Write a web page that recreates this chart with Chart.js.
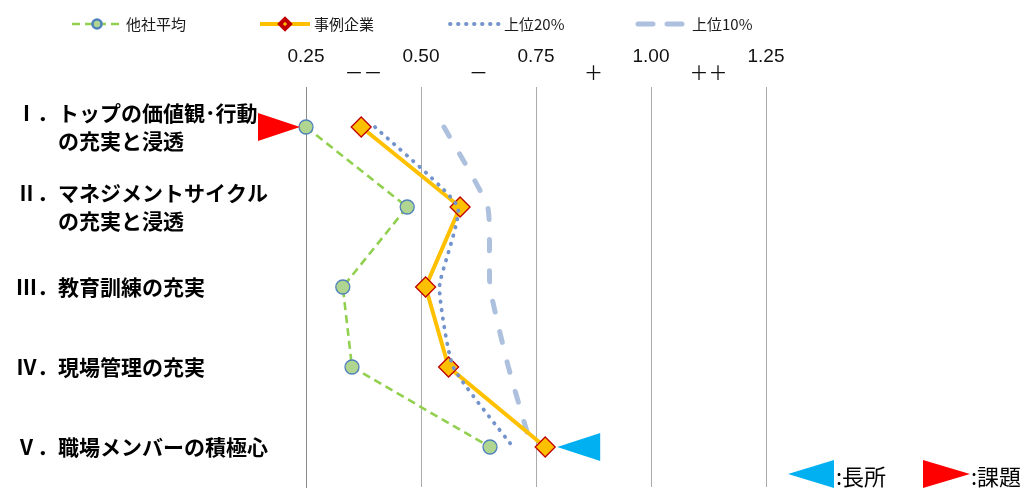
<!DOCTYPE html>
<html lang="ja">
<head>
<meta charset="utf-8">
<title>比較チャート</title>
<script src="https://cdn.jsdelivr.net/npm/chart.js@4.4.1/dist/chart.umd.min.js"></script>
<style>
  html, body { margin: 0; padding: 0; background: #fff; overflow: hidden; }
  canvas { display: block; }
</style>
</head>
<body>
<canvas id="chart" width="1030" height="488"></canvas>
<script>
// Data
const categories = [
  ['Ⅰ．トップの価値観･行動', '　　の充実と浸透'],
  ['Ⅱ．マネジメントサイクル', '　　の充実と浸透'],
  'Ⅲ．教育訓練の充実',
  'Ⅳ．現場管理の充実',
  'Ⅴ．職場メンバーの積極心'
];
const seriesNames = ['他社平均', '事例企業', '上位20%', '上位10%'];
const otherAvg = [0.25, 0.47, 0.33, 0.35, 0.65];
const caseCompany = [0.37, 0.585, 0.51, 0.56, 0.77];
const top20 = [0.40, 0.58, 0.54, 0.57, 0.70];
const top10 = [0.55, 0.645, 0.65, 0.69, 0.74];

const xTickValues = [0.25, 0.375, 0.5, 0.625, 0.75, 0.875, 1.0, 1.125, 1.25];
const xTickLabels = [
  ['0.25', ''], ['', '－－'], ['0.50', ''], ['', '－'], ['0.75', ''],
  ['', '＋'], ['1.00', ''], ['', '＋＋'], ['1.25', '']
];

// marked points: [series index, category index]
const weakMarks = [[0, 0]];   // 課題
const strongMarks = [[1, 4]]; // 長所
const markLabels = [':長所', ':課題'];

const JP = '"Noto Sans CJK JP", "Noto Sans", sans-serif';

// Triangle helper
function triangle(ctx, tipX, tipY, baseX, half, color) {
  ctx.beginPath();
  ctx.moveTo(tipX, tipY);
  ctx.lineTo(baseX, tipY - half);
  ctx.lineTo(baseX, tipY + half);
  ctx.closePath();
  ctx.fillStyle = color;
  ctx.fill();
}

// Top legend drawn from the dataset styles
const topLegend = {
  id: 'topLegend',
  afterDraw(chart) {
    const ctx = chart.ctx;
    const starts = [72, 260, 450, 638];
    const y = 24;
    chart.data.datasets.forEach((ds, i) => {
      const x = starts[i];
      ctx.save();
      ctx.strokeStyle = ds.borderColor;
      ctx.lineWidth = ds.borderWidth;
      ctx.lineCap = ds.borderCapStyle || 'butt';
      ctx.setLineDash(ds.legendDash || ds.borderDash || []);
      ctx.beginPath();
      ctx.moveTo(x, y);
      ctx.lineTo(x + 50, y);
      ctx.stroke();
      ctx.setLineDash([]);
      if (ds.pointRadius > 0) {
        ctx.fillStyle = ds.pointBackgroundColor;
        ctx.strokeStyle = ds.pointBorderColor;
        Chart.helpers.drawPoint(ctx, {
          pointStyle: ds.pointStyle || 'circle',
          radius: ds.pointStyle === 'rectRot' ? 5 : 4.5,
          borderWidth: 1.5,
          rotation: 0
        }, x + 25, y);
      }
      ctx.fillStyle = '#1a1a1a';
      ctx.font = '15px ' + JP;
      ctx.textBaseline = 'middle';
      ctx.textAlign = 'left';
      ctx.fillText(ds.label, x + 54, y);
      ctx.restore();
    });
  }
};

// Strength / weakness triangles next to the marked points, plus their key
const markPlugin = {
  id: 'marks',
  afterDatasetsDraw(chart) {
    const ctx = chart.ctx;
    ctx.save();
    weakMarks.forEach(([s, i]) => {
      const el = chart.getDatasetMeta(s).data[i];
      triangle(ctx, el.x - 6, el.y, el.x - 48, 14, '#FF0000');
    });
    strongMarks.forEach(([s, i]) => {
      const el = chart.getDatasetMeta(s).data[i];
      triangle(ctx, el.x + 12, el.y, el.x + 55, 14, '#00B0F0');
    });
    // key at the bottom right
    triangle(ctx, 788, 474, 834, 14, '#00B0F0');
    triangle(ctx, 970, 474, 923, 14, '#FF0000');
    ctx.fillStyle = '#000';
    ctx.font = '22px ' + JP;
    ctx.textBaseline = 'middle';
    ctx.textAlign = 'left';
    ctx.fillText(markLabels[0], 836, 477);
    ctx.fillText(markLabels[1], 971, 477);
    ctx.restore();
  }
};

new Chart(document.getElementById('chart'), {
  type: 'line',
  data: {
    labels: categories,
    datasets: [
      {
        label: seriesNames[0], data: otherAvg, order: 1, clip: false,
        borderColor: '#92D050', borderWidth: 2.6, borderDash: [8, 5],
        pointRadius: 7, pointBackgroundColor: '#AFD590',
        pointBorderColor: '#4F81BD', pointBorderWidth: 1.3
      },
      {
        label: seriesNames[1], data: caseCompany, order: 3, clip: false,
        borderColor: '#FFC000', borderWidth: 4,
        pointStyle: 'rectRot', pointRadius: 10, pointBackgroundColor: '#FFC000',
        pointBorderColor: '#C00000', pointBorderWidth: 1.3
      },
      {
        label: seriesNames[2], data: top20, order: 2, clip: false,
        borderColor: '#7293CB', borderWidth: 3.8, borderDash: [0.5, 8],
        borderCapStyle: 'round', legendDash: [0.5, 7.5],
        pointRadius: 0, tension: 0.15
      },
      {
        label: seriesNames[3], data: top10, order: 4, clip: false,
        borderColor: '#ADC0DD', borderWidth: 5, borderDash: [11, 20],
        borderCapStyle: 'round', legendDash: [15, 14],
        pointRadius: 0, tension: 0.15
      }
    ]
  },
  options: {
    indexAxis: 'y',
    responsive: false,
    animation: false,
    layout: { autoPadding: false, padding: { left: 16, right: 264, top: 40, bottom: 1 } },
    plugins: {
      legend: { display: false },
      tooltip: { enabled: false }
    },
    scales: {
      x: {
        type: 'linear',
        position: 'top',
        min: 0.25,
        max: 1.25,
        afterBuildTicks: s => { s.ticks = xTickValues.map(v => ({ value: v })); },
        afterFit: s => { s.height = 47; },
        ticks: {
          autoSkip: false,
          maxRotation: 0,
          padding: 3,
          color: '#111',
          font: { family: '"Liberation Sans", ' + JP, size: 19, lineHeight: '18px' },
          callback: (v, i) => xTickLabels[i]
        },
        grid: {
          drawTicks: false,
          color: c => (c.index % 2 === 0 ? '#ababab' : 'rgba(0,0,0,0)')
        },
        border: { display: false }
      },
      y: {
        type: 'category',
        offset: true,
        afterFit: s => { s.width = 290; s.paddingTop = 0; s.paddingBottom = 0; },
        ticks: {
          autoSkip: false,
          crossAlign: 'far',
          padding: 0,
          color: '#000',
          font: { family: JP, size: 21, weight: 'bold', lineHeight: '28px' }
        },
        grid: { display: false },
        border: { display: true, color: '#8c8c8c', width: 1 }
      }
    }
  },
  plugins: [topLegend, markPlugin]
});
</script>
</body>
</html>
